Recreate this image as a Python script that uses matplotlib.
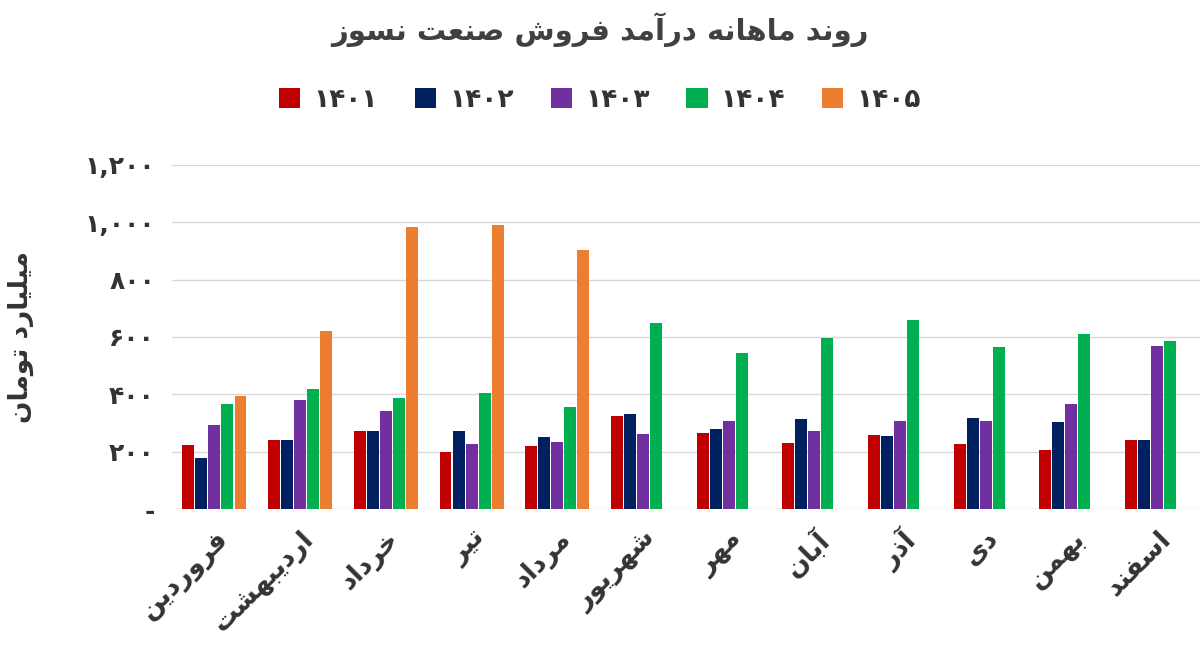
import matplotlib
matplotlib.use("Agg")
import matplotlib.pyplot as plt
import numpy as np

FORMS = {
 'ا':('\uFE8D','\uFE8E',None,None),'آ':('\uFE81','\uFE82',None,None),
 'ب':('\uFE8F','\uFE90','\uFE91','\uFE92'),'ت':('\uFE95','\uFE96','\uFE97','\uFE98'),
 'خ':('\uFEA5','\uFEA6','\uFEA7','\uFEA8'),'د':('\uFEA9','\uFEAA',None,None),
 'ذ':('\uFEAB','\uFEAC',None,None),'ر':('\uFEAD','\uFEAE',None,None),
 'ز':('\uFEAF','\uFEB0',None,None),'س':('\uFEB1','\uFEB2','\uFEB3','\uFEB4'),
 'ش':('\uFEB5','\uFEB6','\uFEB7','\uFEB8'),'ص':('\uFEB9','\uFEBA','\uFEBB','\uFEBC'),
 'ع':('\uFEC9','\uFECA','\uFECB','\uFECC'),'ف':('\uFED1','\uFED2','\uFED3','\uFED4'),
 'ق':('\uFED5','\uFED6','\uFED7','\uFED8'),'ل':('\uFEDD','\uFEDE','\uFEDF','\uFEE0'),
 'م':('\uFEE1','\uFEE2','\uFEE3','\uFEE4'),'ن':('\uFEE5','\uFEE6','\uFEE7','\uFEE8'),
 'ه':('\uFEE9','\uFEEA','\uFEEB','\uFEEC'),'و':('\uFEED','\uFEEE',None,None),
 'ی':('\uFBFC','\uFBFD','\uFBFE','\uFBFF'),
}
def shape(s):
    out=[]
    for i,c in enumerate(s):
        if c not in FORMS:
            out.append(c); continue
        p = s[i-1] if i>0 else ''
        n = s[i+1] if i+1<len(s) else ''
        jp = p in FORMS and FORMS[p][2] is not None
        jn = FORMS[c][2] is not None and n in FORMS
        iso,fin,ini,med = FORMS[c]
        if jp and jn: out.append(med)
        elif jp: out.append(fin)
        elif jn: out.append(ini)
        else: out.append(iso)
    return ''.join(out)[::-1]

months = ['فروردین','اردیبهشت','خرداد','تیر','مرداد','شهریور','مهر','آبان','آذر','دی','بهمن','اسفند']
years = ['۱۴۰۱','۱۴۰۲','۱۴۰۳','۱۴۰۴','۱۴۰۵']
v1401 = [223,241,272,199,220,324,265,230,258,227,206,241]
v1402 = [178,241,272,272,251,331,279,314,255,317,303,241]
v1403 = [293,380,342,227,234,262,307,272,307,307,366,569]
v1404 = [366,419,387,405,356,649,544,596,659,565,610,586]
v1405 = [394,621,984,991,903]
series = [v1401,v1402,v1403,v1404,v1405]
colors = ['#C00000','#002060','#7030A0','#00B050','#ED7D31']
yticks = [0,200,400,600,800,1000,1200]
ytlabels = ['-','۲۰۰','۴۰۰','۶۰۰','۸۰۰','۱,۰۰۰','۱,۲۰۰']

fig = plt.figure(figsize=(12,6.48), dpi=100)
ax = fig.add_axes([0.143,0.2145,0.857,0.531])
w = 0.152
for k,(vals,col) in enumerate(zip(series,colors)):
    x = np.arange(len(vals)) + (k-2)*w
    ax.bar(x, vals, width=w*0.92, color=col, label=years[k], zorder=3)
ax.set_xlim(-0.5,11.5); ax.set_ylim(0,1200)
ax.set_yticks(yticks); ax.set_yticklabels(ytlabels, fontsize=18, color='#333333', fontweight='bold')
ax.set_xticks(np.arange(12))
ax.set_xticklabels([shape(m) for m in months], rotation=45, ha='right', rotation_mode='anchor', fontsize=19, color='#333333', fontweight='bold')
ax.tick_params(length=0, pad=12)
ax.yaxis.grid(True, color='#D9D9D9', lw=1, zorder=0)
for s in ax.spines.values(): s.set_visible(False)
ax.set_ylabel(shape('میلیارد تومان'), fontsize=19, color='#333333', fontweight='bold', labelpad=36)
fig.text(0.5,0.955, shape('روند ماهانه درآمد فروش صنعت نسوز'), ha='center', va='center', fontsize=21, fontweight='bold', color='#404040')
fig.legend(loc='center', bbox_to_anchor=(0.5,0.845), ncol=5, frameon=False, fontsize=19, handlelength=0.8, handleheight=0.8, columnspacing=1.4, handletextpad=0.5, labelcolor='#333333', prop={'size':19,'weight':'bold'})
fig.savefig('out.png', dpi=100)
